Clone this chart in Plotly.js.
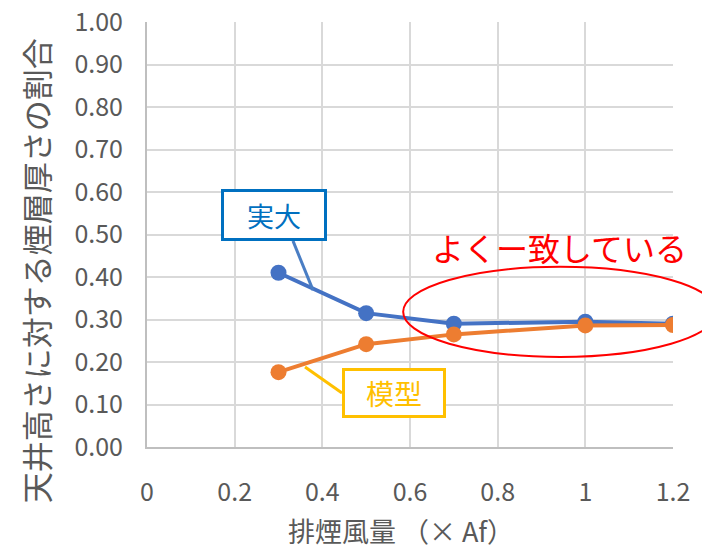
<!DOCTYPE html>
<html>
<head>
<meta charset="utf-8">
<script src="https://cdn.plot.ly/plotly-3.0.1.min.js"></script>
<style>html,body{margin:0;padding:0;background:#fff;}#chart{width:702px;height:551px;}</style>
</head>
<body>
<div id="chart"></div>
<script>
// Data
const xValues = [0.3, 0.5, 0.7, 1.0, 1.2];
const fullScale = [0.41, 0.315, 0.29, 0.295, 0.29];   // 実大
const modelScale = [0.176, 0.242, 0.265, 0.286, 0.287]; // 模型
const seriesNames = ['実大', '模型'];
const xTitle = '排煙風量 （× Af）';
const yTitle = '天井高さに対する煙層厚さの割合';
const noteText = 'よくー致している';

const font = '"Noto Sans CJK JP", "Noto Sans", sans-serif';
const gray = '#595959';

const traces = [
  {x: xValues, y: fullScale, name: seriesNames[0], type: 'scatter', mode: 'lines+markers',
   line: {color: '#4472C4', width: 4}, marker: {color: '#4472C4', size: 16}},
  {x: xValues, y: modelScale, name: seriesNames[1], type: 'scatter', mode: 'lines+markers',
   line: {color: '#ED7D31', width: 4}, marker: {color: '#ED7D31', size: 16}}
];

const layout = {
  width: 702, height: 551,
  margin: {l: 147, r: 29, t: 22, b: 104},
  paper_bgcolor: '#fff', plot_bgcolor: '#fff',
  showlegend: false,
  font: {family: font, color: gray},
  xaxis: {
    range: [0, 1.2], dtick: 0.2, tick0: 0,
    showgrid: true, gridcolor: '#D9D9D9', gridwidth: 2,
    showline: true, linecolor: '#BFBFBF', linewidth: 2,
    zeroline: false, ticks: 'outside', ticklen: 22, tickcolor: 'rgba(0,0,0,0)',
    tickfont: {size: 25, color: gray, family: font}
  },
  yaxis: {
    range: [0, 1.0], dtick: 0.1, tick0: 0, tickformat: '.2f',
    showgrid: true, gridcolor: '#D9D9D9', gridwidth: 2,
    showline: true, linecolor: '#BFBFBF', linewidth: 2,
    zeroline: false, ticks: 'outside', ticklen: 17, tickcolor: 'rgba(0,0,0,0)',
    tickfont: {size: 25, color: gray, family: font}
  },
  shapes: [
    {type: 'line', xref: 'x', yref: 'y', x0: 0.333, y0: 0.485, x1: 0.3787, y1: 0.369,
     line: {color: '#4A7EC4', width: 3}},
    {type: 'line', xref: 'x', yref: 'y', x0: 0.3605, y0: 0.188, x1: 0.4449, y1: 0.127,
     line: {color: '#FFC000', width: 3}},
    {type: 'circle', xref: 'paper', yref: 'paper', x0: 0.487, x1: 1.084, y0: 0.212, y1: 0.424,
     line: {color: '#FF0000', width: 2}}
  ],
  annotations: [
    {xref: 'x', yref: 'y', x: 0.2886, y: 0.547, xanchor: 'center', yanchor: 'middle',
     text: seriesNames[0], showarrow: false,
     font: {size: 27, color: '#0070C0', family: font},
     bordercolor: '#0070C0', borderwidth: 3, borderpad: 0, bgcolor: '#fff', width: 100, height: 46},
    {xref: 'x', yref: 'y', x: 0.5646, y: 0.127, xanchor: 'center', yanchor: 'middle',
     text: seriesNames[1], showarrow: false,
     font: {size: 28, color: '#FFC000', family: font},
     bordercolor: '#FFC000', borderwidth: 3, borderpad: 0, bgcolor: '#fff', width: 98, height: 44},
    {xref: 'paper', yref: 'paper', x: 0.7833, y: 0.4706, xanchor: 'center', yanchor: 'middle',
     text: noteText, showarrow: false,
     font: {size: 32, color: '#FF0000', family: font}},
    {xref: 'paper', yref: 'paper', x: 0.4825, y: -0.197, xanchor: 'center', yanchor: 'middle',
     text: xTitle, showarrow: false,
     font: {size: 27, color: gray, family: font}},
    {xref: 'paper', yref: 'paper', x: -0.213, y: 0.416, xanchor: 'center', yanchor: 'middle',
     text: yTitle, showarrow: false, textangle: -90,
     font: {size: 31, color: gray, family: font}}
  ]
};

Plotly.newPlot('chart', traces, layout, {displayModeBar: false, staticPlot: true});
</script>
</body>
</html>
